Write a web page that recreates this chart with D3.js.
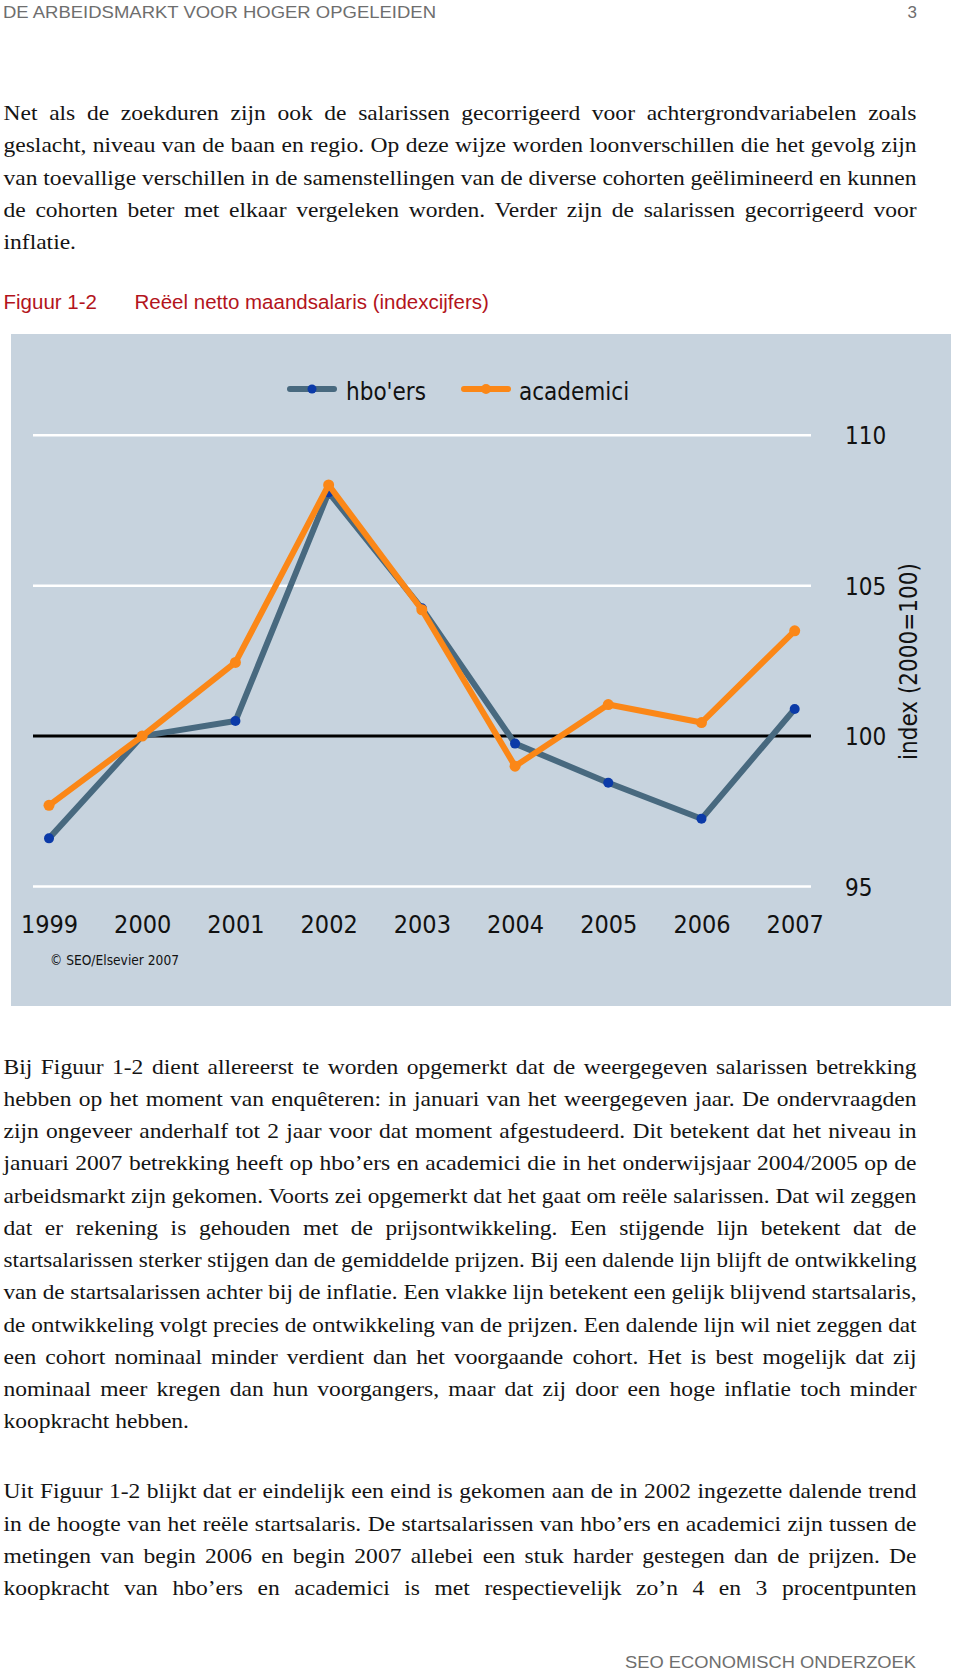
<!DOCTYPE html>
<html>
<head>
<meta charset="utf-8">
<script src="https://cdn.jsdelivr.net/npm/d3@7"></script>
<style>
  html, body { margin: 0; padding: 0; background: #ffffff; }
  svg { display: block; }
</style>
</head>
<body>
<div id="page"></div>
<script>
// ---------- data ----------
const years = ["1999", "2000", "2001", "2002", "2003", "2004", "2005", "2006", "2007"];
const hboValues = [96.6, 100, 100.5, 108.1, 104.25, 99.75, 98.45, 97.25, 100.9];
const academiciValues = [97.7, 100, 102.45, 108.35, 104.2, 99.0, 101.05, 100.45, 103.5];
const yTicks = [95, 100, 105, 110];
const seriesNames = ["hbo'ers", "academici"];

const headerText = "DE ARBEIDSMARKT VOOR HOGER OPGELEIDEN";
const pageNumber = "3";
const footerText = "SEO ECONOMISCH ONDERZOEK";
const figureLabel = "Figuur 1-2";
const figureTitle = "Reëel netto maandsalaris (indexcijfers)";
const axisTitle = "index (2000=100)";
const sourceText = "© SEO/Elsevier 2007";

const paragraph1 = [
  "Net als de zoekduren zijn ook de salarissen gecorrigeerd voor achtergrondvariabelen zoals",
  "geslacht, niveau van de baan en regio. Op deze wijze worden loonverschillen die het gevolg zijn",
  "van toevallige verschillen in de samenstellingen van de diverse cohorten geëlimineerd en kunnen",
  "de cohorten beter met elkaar vergeleken worden. Verder zijn de salarissen gecorrigeerd voor",
  "inflatie."
];
const paragraph2 = [
  "Bij Figuur 1-2 dient allereerst te worden opgemerkt dat de weergegeven salarissen betrekking",
  "hebben op het moment van enquêteren: in januari van het weergegeven jaar. De ondervraagden",
  "zijn ongeveer anderhalf tot 2 jaar voor dat moment afgestudeerd. Dit betekent dat het niveau in",
  "januari 2007 betrekking heeft op hbo’ers en academici die in het onderwijsjaar 2004/2005 op de",
  "arbeidsmarkt zijn gekomen. Voorts zei opgemerkt dat het gaat om reële salarissen. Dat wil zeggen",
  "dat er rekening is gehouden met de prijsontwikkeling. Een stijgende lijn betekent dat de",
  "startsalarissen sterker stijgen dan de gemiddelde prijzen. Bij een dalende lijn blijft de ontwikkeling",
  "van de startsalarissen achter bij de inflatie. Een vlakke lijn betekent een gelijk blijvend startsalaris,",
  "de ontwikkeling volgt precies de ontwikkeling van de prijzen. Een dalende lijn wil niet zeggen dat",
  "een cohort nominaal minder verdient dan het voorgaande cohort. Het is best mogelijk dat zij",
  "nominaal meer kregen dan hun voorgangers, maar dat zij door een hoge inflatie toch minder",
  "koopkracht hebben."
];
const paragraph3 = [
  "Uit Figuur 1-2 blijkt dat er eindelijk een eind is gekomen aan de in 2002 ingezette dalende trend",
  "in de hoogte van het reële startsalaris. De startsalarissen van hbo’ers en academici zijn tussen de",
  "metingen van begin 2006 en begin 2007 allebei een stuk harder gestegen dan de prijzen. De",
  "koopkracht van hbo’ers en academici is met respectievelijk zo’n 4 en 3 procentpunten"
];

// ---------- page ----------
const W = 960, H = 1671;
const svg = d3.select("#page").append("svg")
  .attr("width", W).attr("height", H)
  .attr("viewBox", `0 0 ${W} ${H}`);

svg.append("rect").attr("width", W).attr("height", H).attr("fill", "#ffffff");

const sansFont = "'Liberation Sans', Arial, sans-serif";
const serifFont = "'Liberation Serif', 'Times New Roman', serif";
const chartFont = "'DejaVu Sans Condensed', 'DejaVu Sans', sans-serif";

// header & footer
svg.append("text").attr("x", 3).attr("y", 17.5)
  .attr("font-family", sansFont).attr("font-size", 17).attr("fill", "#6e6e6e")
  .attr("textLength", 433).attr("lengthAdjust", "spacingAndGlyphs")
  .text(headerText);
svg.append("text").attr("x", 917).attr("y", 17.5).attr("text-anchor", "end")
  .attr("font-family", sansFont).attr("font-size", 17).attr("fill", "#6e6e6e")
  .text(pageNumber);
svg.append("text").attr("x", 625).attr("y", 1668)
  .attr("font-family", sansFont).attr("font-size", 17).attr("fill", "#6e6e6e")
  .attr("textLength", 291).attr("lengthAdjust", "spacingAndGlyphs")
  .text(footerText);

// body paragraphs (horizontally widened serif to approximate Garamond widths)
const textLeft = 3.5, textRight = 916.5, lineGap = 32.25, stretch = 1.07;
function paragraph(lines, firstBaseline, lastJustified) {
  lines.forEach((line, i) => {
    const lg = svg.append("g")
      .attr("transform", `translate(${textLeft},${firstBaseline + i * lineGap}) scale(${stretch},1)`);
    const t = lg.append("text")
      .attr("x", 0).attr("y", 0)
      .attr("font-family", serifFont).attr("font-size", 22).attr("fill", "#141414")
      .text(line);
    const justify = lastJustified || i < lines.length - 1;
    if (justify) {
      const target = (textRight - textLeft) / stretch;
      const natural = t.node().getComputedTextLength();
      const spaces = (line.match(/ /g) || []).length;
      if (natural > target || spaces === 0) {
        t.attr("textLength", target).attr("lengthAdjust", "spacingAndGlyphs");
      } else {
        t.style("word-spacing", ((target - natural) / spaces) + "px");
      }
    }
  });
}
paragraph(paragraph1, 120, false);
paragraph(paragraph2, 1073.5, false);
paragraph(paragraph3, 1498.3, true);

// figure caption
svg.append("text").attr("x", 3.5).attr("y", 308.5)
  .attr("font-family", sansFont).attr("font-size", 20.5).attr("fill", "#b3141c")
  .text(figureLabel);
svg.append("text").attr("x", 134.5).attr("y", 308.5)
  .attr("font-family", sansFont).attr("font-size", 20.5).attr("fill", "#b3141c")
  .text(figureTitle);

// ---------- chart ----------
const panel = { x: 11, y: 334, w: 940, h: 672 };
svg.append("rect")
  .attr("x", panel.x).attr("y", panel.y).attr("width", panel.w).attr("height", panel.h)
  .attr("fill", "#c7d3de");

const x = d3.scalePoint().domain(years).range([49, 794.7]);
const y = d3.scaleLinear().domain([95, 110]).range([886.5, 435.3]);
const gridX0 = 33, gridX1 = 811;

const g = svg.append("g");

// gridlines
g.selectAll("line.grid").data(yTicks.filter(d => d !== 100)).join("line")
  .attr("class", "grid")
  .attr("x1", gridX0).attr("x2", gridX1)
  .attr("y1", d => y(d)).attr("y2", d => y(d))
  .attr("stroke", "#ffffff").attr("stroke-width", 2.6);

// base line at 100
g.append("line")
  .attr("x1", gridX0).attr("x2", gridX1)
  .attr("y1", y(100)).attr("y2", y(100))
  .attr("stroke", "#000000").attr("stroke-width", 3);

// right axis tick labels
const yAxis = d3.axisRight(y).tickValues(yTicks).tickSize(0).tickPadding(0).tickFormat(d3.format("d"));
const yAxisG = svg.append("g").attr("transform", "translate(845,0)").call(yAxis);
yAxisG.select(".domain").remove();
yAxisG.selectAll("text")
  .attr("font-family", chartFont).attr("font-size", 24).attr("fill", "#111111")
  .attr("dy", "0.36em").attr("x", 0);

// axis title
svg.append("text")
  .attr("transform", "translate(917,661.5) rotate(-90)")
  .attr("text-anchor", "middle")
  .attr("font-family", chartFont).attr("font-size", 24).attr("fill", "#111111")
  .text(axisTitle);

// bottom year labels
const xAxis = d3.axisBottom(x).tickSize(0).tickPadding(0);
const xAxisG = svg.append("g").attr("transform", "translate(0,0)").call(xAxis);
xAxisG.select(".domain").remove();
xAxisG.selectAll("text")
  .attr("font-family", chartFont).attr("font-size", 25).attr("fill", "#111111")
  .attr("y", 932.7).attr("dy", 0);

// source note
svg.append("text").attr("x", 50).attr("y", 965)
  .attr("font-family", chartFont).attr("font-size", 14).attr("fill", "#111111")
  .attr("textLength", 129).attr("lengthAdjust", "spacingAndGlyphs")
  .text(sourceText);

// series
const lineGen = d3.line().x((d, i) => x(years[i])).y(d => y(d));
const hboColor = "#48697f", hboMarker = "#0b3aa8";
const acaColor = "#fb8717", acaMarker = "#fb8717";

g.append("path").datum(hboValues)
  .attr("d", lineGen).attr("fill", "none")
  .attr("stroke", hboColor).attr("stroke-width", 6).attr("stroke-linejoin", "round");
g.selectAll("circle.hbo").data(hboValues).join("circle")
  .attr("class", "hbo")
  .attr("cx", (d, i) => x(years[i])).attr("cy", d => y(d)).attr("r", 5)
  .attr("fill", hboMarker);

g.append("path").datum(academiciValues)
  .attr("d", lineGen).attr("fill", "none")
  .attr("stroke", acaColor).attr("stroke-width", 6).attr("stroke-linejoin", "round");
g.selectAll("circle.aca").data(academiciValues).join("circle")
  .attr("class", "aca")
  .attr("cx", (d, i) => x(years[i])).attr("cy", d => y(d)).attr("r", 5.5)
  .attr("fill", acaMarker);

// legend
const legendItems = [
  { name: seriesNames[0], x0: 290, x1: 334, textX: 346, color: hboColor, marker: hboMarker, r: 4.5 },
  { name: seriesNames[1], x0: 464, x1: 508, textX: 519, color: acaColor, marker: acaMarker, r: 5 }
];
const legY = 389;
const leg = svg.append("g");
legendItems.forEach(it => {
  leg.append("line").attr("x1", it.x0).attr("x2", it.x1).attr("y1", legY).attr("y2", legY)
    .attr("stroke", it.color).attr("stroke-width", 6).attr("stroke-linecap", "round");
  leg.append("circle").attr("cx", (it.x0 + it.x1) / 2).attr("cy", legY).attr("r", it.r)
    .attr("fill", it.marker);
  leg.append("text").attr("x", it.textX).attr("y", 399.5)
    .attr("font-family", chartFont).attr("font-size", 24).attr("fill", "#111111")
    .text(it.name);
});
</script>
</body>
</html>
